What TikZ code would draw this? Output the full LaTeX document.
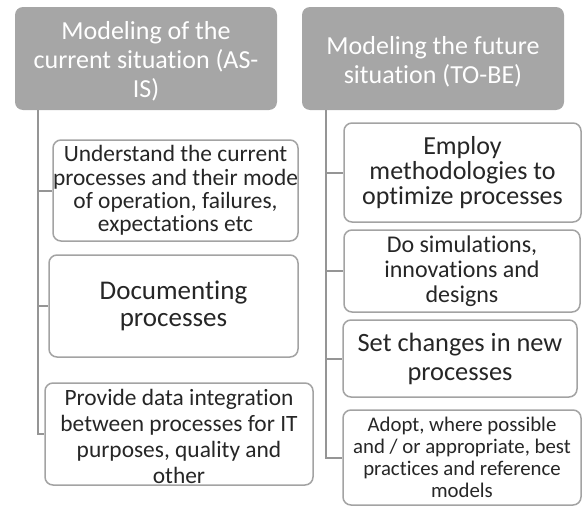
\documentclass[tikz,border=0pt]{standalone}
\usepackage{fontspec}
\setmainfont{Carlito}[Ligatures=NoCommon]
\definecolor{hdrfill}{HTML}{A6A6A6}
\definecolor{boxline}{HTML}{A3A3A3}
\definecolor{connline}{HTML}{959595}
\definecolor{txt}{HTML}{262626}
\tikzset{
  hdrbox/.style={draw=none, fill=hdrfill, rounded corners=8pt, inner sep=0pt},
  childbox/.style={draw=boxline, line width=1.5pt, fill=white, rounded corners=8pt, inner sep=0pt},
  hdrtext/.style={text=white, align=center, inner sep=0pt, font=\fontsize{26}{29}\selectfont},
  childtext/.style={text=txt, align=center, inner sep=0pt},
  conn/.style={draw=connline, line width=2pt},
}
\begin{document}
\begin{tikzpicture}[x=1pt,y=-1pt]
\useasboundingbox (0,0) rectangle (582,506);
% headers
\node[hdrbox, minimum width=262pt, minimum height=103pt] (h1) at (146,58.5) {};
\node[hdrtext] (h1t) at ([yshift=-3pt]h1.center) {Modeling of the\\current situation (AS-\\IS)};
\node[hdrbox, minimum width=262pt, minimum height=103pt] (h2) at (433,58.5) {};
\node[hdrtext] (h2t) at ([yshift=-3pt]h2.center) {Modeling the future\\situation (TO-BE)};
% spines
\coordinate (sl) at (38,0);
\coordinate (sr) at (326,0);
% left children
\node[childbox, minimum width=245pt, minimum height=101pt] (l1) at (175.5,190.5) {};
\node[childtext, font=\fontsize{23.4}{23.3}\selectfont] (l1t) at (l1.center) {Understand the current\\processes and their mode\\of operation, failures,\\expectations etc};
\node[childbox, minimum width=249pt, minimum height=102pt] (l2) at (173.5,306) {};
\node[childtext, font=\fontsize{27}{27}\selectfont] (l2t) at (l2.center) {Documenting\\processes};
\node[childbox, minimum width=268pt, minimum height=102pt] (l3) at (179,434) {};
\node[childtext, font=\fontsize{23.4}{26}\selectfont] (l3t) at ([yshift=-2pt]l3.center) {Provide data integration\\between processes for IT\\purposes, quality and\\other};
% right children
\node[childbox, minimum width=237pt, minimum height=99pt] (r1) at (462.5,172.5) {};
\node[childtext, font=\fontsize{26}{25}\selectfont] (r1t) at (r1.center) {Employ\\methodologies to\\optimize processes};
\node[childbox, minimum width=236pt, minimum height=82pt] (r2) at (462,271) {};
\node[childtext, font=\fontsize{24}{25}\selectfont] (r2t) at (r2.center) {Do simulations,\\innovations and\\designs};
\node[childbox, minimum width=234pt, minimum height=77pt] (r3) at (460,358.5) {};
\node[childtext, font=\fontsize{26.4}{29}\selectfont] (r3t) at (r3.center) {Set changes in new\\processes};
\node[childbox, minimum width=238pt, minimum height=95pt] (r4) at (462,457.5) {};
\node[childtext, font=\fontsize{20.8}{22}\selectfont] (r4t) at (r4.center) {Adopt, where possible\\and / or appropriate, best\\practices and reference\\models};
% connectors
\draw[conn] (h1.south -| sl) |- (l3.west);
\draw[conn] (sl |- l1.west) -- (l1.west);
\draw[conn] (sl |- l2.west) -- (l2.west);
\draw[conn] (h2.south -| sr) |- (r4.west);
\draw[conn] (sr |- r1.west) -- (r1.west);
\draw[conn] (sr |- r2.west) -- (r2.west);
\draw[conn] (sr |- r3.west) -- (r3.west);
\end{tikzpicture}
\end{document}
